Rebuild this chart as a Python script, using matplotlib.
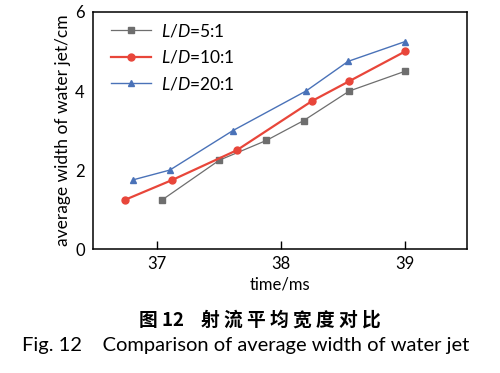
import matplotlib
matplotlib.use("Agg")
import matplotlib.pyplot as plt

# L/D = 5:1
t_5 = [37.04, 37.5, 37.88, 38.18, 38.55, 39.0]
w_5 = [1.25, 2.25, 2.75, 3.25, 4.0, 4.5]
# L/D = 10:1
t_10 = [36.74, 37.12, 37.64, 38.25, 38.55, 39.0]
w_10 = [1.25, 1.75, 2.5, 3.75, 4.25, 5.0]
# L/D = 20:1
t_20 = [36.8, 37.1, 37.61, 38.2, 38.54, 39.0]
w_20 = [1.75, 2.0, 3.0, 4.0, 4.75, 5.25]

xticks = [37, 38, 39]
yticks = [0, 2, 4, 6]

plt.rcParams['font.family'] = ['Lato', 'DejaVu Sans']
plt.rcParams['mathtext.fontset'] = 'custom'
plt.rcParams['mathtext.it'] = 'Lato:italic'
plt.rcParams['mathtext.rm'] = 'Lato'

fig = plt.figure(figsize=(5, 3.73), dpi=100)
ax = fig.add_axes([0.186, 0.332, 0.748, 0.636])

ax.plot(t_5, w_5, color='#6e6e6e', lw=0.9, marker='s', ms=4, label='$L/D$=5:1')
ax.plot(t_10, w_10, color='#e8463a', lw=1.6, marker='o', ms=5, label='$L/D$=10:1')
ax.plot(t_20, w_20, color='#4a72b8', lw=1.0, marker='^', ms=5, label='$L/D$=20:1')

ax.set_xlim(36.48, 39.5)
ax.set_ylim(0, 6)
ax.set_xticks(xticks)
ax.set_yticks(yticks)
ax.tick_params(axis='x', direction='in', length=6, width=1, labelsize=12, pad=5)
ax.tick_params(axis='y', direction='in', length=0, labelsize=12, pad=6)
for s in ax.spines.values():
    s.set_linewidth(1.1)

ax.set_xlabel('time/ms', fontsize=12, labelpad=3)
ax.set_ylabel('average width of water jet/cm', fontsize=12.5, labelpad=3)

leg = ax.legend(loc='upper left', frameon=False, fontsize=12.5, handlelength=2.3,
                handletextpad=0.6, borderaxespad=0.2, labelspacing=0.55,
                bbox_to_anchor=(0.02, 1.0))

fig.text(0.52, 0.142, '图 12    射 流 平 均 宽 度 对 比', ha='center', va='center',
         fontsize=13.5, fontweight='bold', family=['Noto Sans CJK SC', 'DejaVu Sans'])
fig.text(0.492, 0.075, 'Fig. 12    Comparison of average width of water jet', ha='center',
         va='center', fontsize=14.5)

fig.savefig('out.png', dpi=100)
